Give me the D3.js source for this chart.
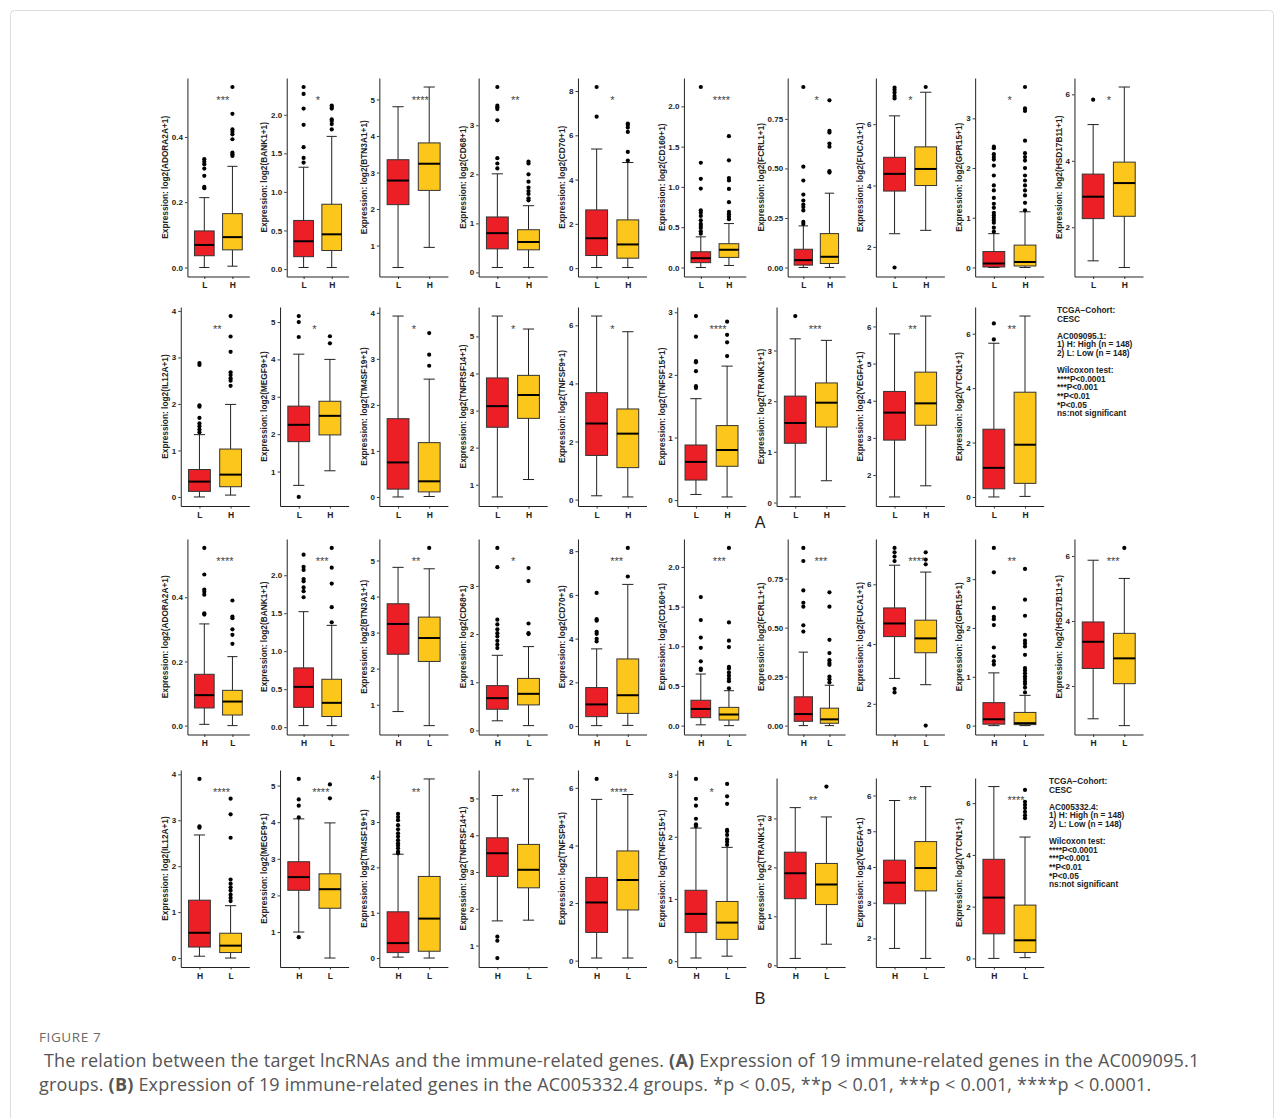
<!DOCTYPE html>
<html>
<head>
<meta charset="utf-8">
<script src="https://cdn.jsdelivr.net/npm/d3@7"></script>
<style>
  body { margin: 0; background: #fff; }
  svg text { font-family: "Liberation Sans", Arial, sans-serif; }
</style>
</head>
<body>
<svg id="fig" width="1281" height="1118"></svg>
<script>
// genes shown in each half of the figure
const genes = ["ADORA2A","BANK1","BTN3A1","CD68","CD70","CD160","FCRL1","FUCA1","GPR15","HSD17B11",
               "IL12A","MEGF9","TM4SF19","TNFRSF14","TNFSF9","TNFSF15","TRANK1","VEGFA","VTCN1"];

const tickLabels = [
  ["0.0","0.2","0.4"], ["0.0","0.5","1.0","1.5","2.0"], ["1","2","3","4","5"], ["0","1","2","3"],
  ["0","2","4","6","8"], ["0.0","0.5","1.0","1.5","2.0"], ["0.00","0.25","0.50","0.75"], ["2","4","6"],
  ["0","1","2","3"], ["2","4","6"], ["0","1","2","3","4"], ["1","2","3","4","5"], ["0","1","2","3","4"],
  ["1","2","3","4","5"], ["0","2","4","6"], ["0","1","2","3"], ["0","1","2","3"], ["2","3","4","5","6"],
  ["0","2","4","6"]
];

// (A) AC009095.1 : L (red) then H (yellow)
const starsA = ["***","*","****","**","*","****","*","*","*","*","**","*","*","*","*","****","***","**","**"];
// box stats: [whisker low, q1, median, q3, whisker high]
const boxA_L = [
  [0,0.036,0.069,0.112,0.214], [0.02,0.16,0.36,0.63,1.32], [0.4,2.12,2.78,3.35,4.8], [0.1,0.48,0.8,1.13,2.01],
  [0.03,0.57,1.35,2.63,5.38], [0,0.06,0.115,0.195,0.38], [0,0.012,0.037,0.092,0.21], [2.43,3.82,4.38,4.92,6.27],
  [0,0.01,0.08,0.32,0.68], [0.99,2.26,2.92,3.6,5.09], [0,0.12,0.33,0.59,1.34], [0.63,1.8,2.25,2.75,4.14],
  [0,0.17,0.75,1.7,3.93], [0.67,2.55,3.12,3.88,5.55], [0.13,1.52,2.62,3.68,6.32], [0.09,0.32,0.61,0.88,1.62],
  [0.11,1.17,1.57,2.1,3.23], [1.41,2.94,3.68,4.25,5.8], [0,0.3,1.07,2.49,5.65]
];
const outA_L = [
  [0.243,0.247,0.281,0.303,0.316,0.324,0.332], [1.38,1.44,1.58,1.87,2.08,2.27,2.36], [],
  [2.12,2.22,2.33,3.1,3.33,3.37,3.4,3.78], [6.84,8.18],
  [0.42,0.45,0.49,0.515,0.54,0.585,0.64,0.68,0.71,0.98,1.1,1.3,2.24],
  [0.22,0.23,0.288,0.305,0.318,0.338,0.368,0.439,0.509,0.911], [1.33,6.84,6.92,7.03,7.11,7.19],
  [0.72,0.8,0.9,0.95,1.0,1.05,1.1,1.2,1.28,1.4,1.55,1.65,1.85,2.05,2.17,2.22,2.28,2.4,2.43], [5.84],
  [1.39,1.45,1.52,1.58,1.7,1.94,1.97,2.84,2.88], [0.32,4.6,5.0,5.16], [], [], [],
  [1.79,1.82,2.06,2.2,2.22,2.61,2.94], [3.68], [], [5.79,6.38]
];
const boxA_H = [
  [0.004,0.054,0.093,0.165,0.31], [0.02,0.24,0.45,0.84,1.72], [0.95,2.51,3.24,3.81,5.34], [0.1,0.46,0.62,0.87,1.36],
  [0.03,0.45,1.07,2.18,4.77], [0.025,0.125,0.22,0.295,0.545], [0,0.02,0.054,0.171,0.375], [2.54,4.0,4.54,5.26,7.04],
  [0,0.03,0.11,0.45,1.12], [0.79,2.33,3.33,3.96,6.22], [0.04,0.22,0.48,1.03,1.99], [1.02,1.98,2.49,2.88,4.0],
  [0.01,0.11,0.34,1.18,2.56], [1.14,2.79,3.42,3.95,5.2], [0.09,1.1,2.27,3.12,5.78], [0.05,0.54,0.8,1.19,2.14],
  [0.43,1.49,1.97,2.36,3.2], [1.71,3.34,3.93,4.77,6.28], [0.02,0.5,1.92,3.85,6.65]
];
const outA_H = [
  [0.342,0.347,0.352,0.393,0.408,0.416,0.423,0.471,0.553], [1.81,1.88,1.92,1.94,2.08,2.1,2.12], [],
  [1.47,1.51,1.6,1.66,1.73,1.85,2.0,2.22,2.26], [4.86,5.25,6.15,6.35,6.47,6.53],
  [0.6,0.63,0.66,0.69,0.81,0.975,1.08,1.11,1.33,1.63], [0.479,0.486,0.61,0.626,0.681,0.69,0.844], [7.21],
  [1.15,1.3,1.45,1.55,1.65,1.75,1.85,2.0,2.15,2.22,2.3,2.55,3.15,3.2,3.63], [],
  [2.39,2.5,2.55,2.62,2.68,3.12,3.45,3.89], [4.43,4.62], [2.85,3.09,3.56], [], [],
  [2.3,2.52,2.64,2.85], [], [], []
];

// (B) AC005332.4 : H (red) then L (yellow)
const starsB = ["****","***","**","*","***","***","***","****","**","***","****","****","**","**","****","*","**","**","****"];
const boxB_H = [
  [0.004,0.055,0.095,0.16,0.317], [0.02,0.26,0.53,0.78,1.52], [0.81,2.4,3.24,3.8,4.81], [0.2,0.44,0.67,0.93,1.56],
  [0.02,0.43,0.99,1.76,3.53], [0.01,0.1,0.21,0.32,0.65], [0,0.022,0.059,0.147,0.375], [2.85,4.25,4.69,5.21,6.64],
  [0,0.03,0.13,0.47,1.08], [0.99,2.54,3.36,3.97,5.87], [0.04,0.24,0.55,1.26,2.68], [1.0,2.14,2.5,2.92,4.09],
  [0.02,0.12,0.33,1.02,2.29], [1.67,2.88,3.51,3.93,5.08], [0.09,0.98,2.02,2.89,5.6], [0.05,0.46,0.76,1.14,2.14],
  [0.14,1.36,1.88,2.31,3.22], [1.72,2.97,3.56,4.19,5.86], [0,0.95,2.35,3.83,6.64]
];
const outB_H = [
  [0.346,0.35,0.408,0.417,0.424,0.471,0.554], [1.71,1.79,1.84,1.92,1.95,2.07,2.11,2.27], [],
  [1.71,1.78,1.86,1.95,2.02,2.1,2.2,2.3,3.39,3.79], [3.87,3.99,4.22,4.31,4.82,4.89,6.09],
  [0.7,0.72,0.81,0.98,1.11,1.33,1.62], [0.48,0.512,0.607,0.627,0.69,0.84,0.907], [2.38,2.5,6.78,6.93,7.07,7.22],
  [1.25,1.32,1.42,1.6,2.06,2.18,2.23,2.41,3.14,3.64], [], [2.84,2.87,3.9], [0.86,4.13,4.45,4.62,5.18],
  [2.31,2.35,2.42,2.48,2.53,2.6,2.68,2.75,2.84,2.93,3.04,3.11,3.18], [0.66,1.13,1.24], [6.31],
  [2.17,2.2,2.29,2.5,2.61,2.93], [], [], []
];
const boxB_L = [
  [0,0.033,0.075,0.11,0.215], [0.02,0.14,0.32,0.63,1.34], [0.42,2.2,2.85,3.43,4.77], [0.1,0.53,0.76,1.08,1.74],
  [0.03,0.58,1.41,3.07,6.48], [0,0.07,0.14,0.23,0.44], [0,0.012,0.032,0.089,0.206], [2.64,3.71,4.19,4.8,6.41],
  [0,0.02,0.05,0.27,0.62], [0.78,2.07,2.85,3.62,5.31], [0,0.12,0.27,0.54,1.14], [0.29,1.65,2.17,2.59,3.98],
  [0,0.15,0.87,1.8,3.95], [1.69,2.57,3.06,3.75,5.53], [0.09,1.76,2.8,3.81,5.77], [0.08,0.35,0.62,0.96,1.83],
  [0.43,1.24,1.65,2.08,3.03], [1.44,3.33,3.97,4.71,6.25], [0.03,0.23,0.7,2.06,4.69]
];
const outB_L = [
  [0.255,0.283,0.3,0.335,0.34,0.39], [1.38,1.58,1.89,2.1,2.36], [5.35], [2.0,2.02,2.22,3.1,3.37], [6.84,8.15],
  [0.47,0.56,0.59,0.63,0.67,0.72,0.74,0.99,1.07,1.3,2.24], [0.22,0.236,0.25,0.31,0.32,0.334,0.37,0.438,0.607,0.68],
  [1.27,6.67,6.83,7.07], [0.68,0.78,0.85,0.9,0.96,1.01,1.07,1.13,1.18,1.45,1.62,1.68,1.74,1.86,2.25,2.58,3.21],
  [6.25], [1.24,1.31,1.38,1.47,1.54,1.62,1.71,2.62,3.13,3.47], [4.65,5.03], [], [], [],
  [1.87,1.92,1.96,2.03,2.09,2.11,2.53,2.65,2.85], [3.65], [], [5.42,5.53,5.66,5.81,5.93,6.05,6.51]
];

const legendA = ["TCGA\u2212Cohort:", "CESC", "", "AC009095.1:", "1) H: High (n = 148)", "2) L: Low (n = 148)", "",
  "Wilcoxon test:", "****P<0.0001", "***P<0.001", "**P<0.01", "*P<0.05", "ns:not significant"];
const legendB = ["TCGA\u2212Cohort:", "CESC", "", "AC005332.4:", "1) H: High (n = 148)", "2) L: Low (n = 148)", "",
  "Wilcoxon test:", "****P<0.0001", "***P<0.001", "**P<0.01", "*P<0.05", "ns:not significant"];

const RED = "#EC1F26", YELLOW = "#FCC61B";
const cellX0 = 158, cellW = 99.3;

const svg = d3.select("#fig");

// card border
svg.append("rect")
    .attr("x", 10.5).attr("y", 10.5)
    .attr("width", 1263).attr("height", 1140)
    .attr("rx", 4)
    .attr("fill", "none")
    .attr("stroke", "#dcdcdc");

function drawPanel(cellX, top, bottom, gene, ticks, groups, stars) {
    const g = svg.append("g");
    const vals = groups.flatMap(d => [d.box[0], d.box[4], ...d.out]);
    const lo = d3.min(vals), hi = d3.max(vals);
    const pad = (hi - lo) * 0.05;
    const y = d3.scaleLinear().domain([lo - pad, hi + pad]).range([bottom, top]);

    // width of the widest tick label decides where the axis sits
    const probe = g.append("text").style("font-size", "8px").style("font-weight", "bold");
    let maxW = 0;
    ticks.forEach(t => { probe.text(t); maxW = Math.max(maxW, probe.node().getComputedTextLength()); });
    probe.remove();

    const axisX = cellX + 18.3 + maxW;
    const endX = cellX + cellW - 8;
    const x = d3.scalePoint().domain(groups.map(d => d.name)).range([axisX, endX]).padding(0.6);
    const step = x.step();
    const bw = step * 0.7, cw = step * 0.36;

    const yAxis = g.append("g")
        .attr("transform", `translate(${axisX},0)`)
        .call(d3.axisLeft(y).tickValues(ticks.map(Number)).tickFormat((d, i) => ticks[i])
            .tickSize(2.5).tickSizeOuter(0).tickPadding(2));
    const xAxis = g.append("g")
        .attr("transform", `translate(0,${bottom})`)
        .call(d3.axisBottom(x).tickSize(2.5).tickSizeOuter(0).tickPadding(3));
    [yAxis, xAxis].forEach(a => {
        a.select(".domain").attr("stroke", "#222").attr("stroke-width", 1);
        a.selectAll(".tick line").attr("stroke", "#222").attr("stroke-width", 0.9);
        a.selectAll(".tick text").attr("fill", "#222").style("font-weight", "bold")
            .style("font-family", "'Liberation Sans', Arial, sans-serif");
    });
    yAxis.selectAll(".tick text").style("font-size", "8px");
    xAxis.selectAll(".tick text").style("font-size", "8.5px");

    // y title
    g.append("text")
        .attr("transform", `translate(${cellX + 7},${(top + bottom) / 2}) rotate(-90)`)
        .attr("text-anchor", "middle")
        .attr("dominant-baseline", "central")
        .style("font-size", "8.3px").style("font-weight", "bold").attr("fill", "#222")
        .text(`Expression: log2(${gene}+1)`);

    groups.forEach(d => {
        const cx = x(d.name);
        const [w0, q1, md, q3, w1] = d.box;
        const bg = g.append("g");
        // whiskers with caps
        bg.append("line").attr("x1", cx).attr("x2", cx).attr("y1", y(q3)).attr("y2", y(w1))
            .attr("stroke", "#222").attr("stroke-width", 1);
        bg.append("line").attr("x1", cx).attr("x2", cx).attr("y1", y(q1)).attr("y2", y(w0))
            .attr("stroke", "#222").attr("stroke-width", 1);
        [w0, w1].forEach(v => {
            bg.append("line").attr("x1", cx - cw / 2).attr("x2", cx + cw / 2).attr("y1", y(v)).attr("y2", y(v))
                .attr("stroke", "#222").attr("stroke-width", 1);
        });
        bg.append("rect")
            .attr("x", cx - bw / 2).attr("width", bw)
            .attr("y", y(q3)).attr("height", y(q1) - y(q3))
            .attr("fill", d.fill).attr("stroke", "#333").attr("stroke-width", 1);
        bg.append("line").attr("x1", cx - bw / 2).attr("x2", cx + bw / 2).attr("y1", y(md)).attr("y2", y(md))
            .attr("stroke", "#000").attr("stroke-width", 2);
        bg.selectAll("circle").data(d.out).join("circle")
            .attr("cx", cx).attr("cy", v => y(v)).attr("r", 2.1).attr("fill", "#000");
    });

    // significance label
    const mid = (x(groups[0].name) + x(groups[1].name)) / 2;
    g.append("text")
        .attr("x", mid - 2)
        .attr("y", y(hi) + 10.8 + 6.2)
        .style("font-size", "11px").attr("fill", "#444")
        .text(stars);
}

function drawHalf(order, boxR, outR, boxY, outY, stars, rows, shifts, legend, legendX, legendY) {
    genes.forEach((gene, i) => {
        const r = i < 10 ? 0 : 1;
        const col = i < 10 ? i : i - 10;
        const cellX = cellX0 + col * cellW;
        const groups = [
            { name: order[0], box: boxR[i], out: outR[i], fill: RED },
            { name: order[1], box: boxY[i], out: outY[i], fill: YELLOW }
        ];
        drawPanel(cellX, rows[r].top + (shifts[i] || 0), rows[r].bottom, gene, tickLabels[i], groups, stars[i]);
    });
    const lg = svg.append("g").attr("transform", `translate(${legendX},${legendY})`);
    lg.selectAll("text").data(legend).join("text")
        .attr("x", 0).attr("y", (d, i) => i * 8.6)
        .attr("dy", "0.35em")
        .style("font-size", "8.3px").style("font-weight", "bold").attr("fill", "#222")
        .text(d => d);
}

drawHalf(["L", "H"], boxA_L, outA_L, boxA_H, outA_H, starsA,
    [{ top: 78, bottom: 276.5 }, { top: 307, bottom: 506 }], {}, legendA, 1057, 310);
drawHalf(["H", "L"], boxB_H, outB_H, boxB_L, outB_L, starsB,
    [{ top: 539, bottom: 734.5 }, { top: 770, bottom: 967 }], { 16: 8, 17: 8, 18: 8 }, legendB, 1049, 781);

// sub-figure letters
svg.append("text").attr("x", 760).attr("y", 528).attr("text-anchor", "middle")
    .style("font-size", "16px").attr("fill", "#222").text("A");
svg.append("text").attr("x", 760).attr("y", 1004).attr("text-anchor", "middle")
    .style("font-size", "16px").attr("fill", "#222").text("B");

// caption
const capFont = "'Open Sans', 'Noto Sans', sans-serif";
svg.append("text").attr("x", 39).attr("y", 1042)
    .style("font-size", "13.5px").style("letter-spacing", "0.6px").attr("fill", "#6a6a6a")
    .style("font-family", capFont)
    .text("FIGURE 7");
const line1 = svg.append("text").attr("x", 39).attr("y", 1067).attr("fill", "#555")
    .style("font-size", "18px").style("letter-spacing", "0.2px").style("font-family", capFont);
line1.append("tspan").text("\u00a0The relation between the target lncRNAs and the immune-related genes. ");
line1.append("tspan").style("font-weight", "bold").text("(A)");
line1.append("tspan").text(" Expression of 19 immune-related genes in the AC009095.1");
const line2 = svg.append("text").attr("x", 39).attr("y", 1091).attr("fill", "#555")
    .style("font-size", "18px").style("letter-spacing", "0.2px").style("font-family", capFont);
line2.append("tspan").text("groups. ");
line2.append("tspan").style("font-weight", "bold").text("(B)");
line2.append("tspan").text(" Expression of 19 immune-related genes in the AC005332.4 groups. *p < 0.05, **p < 0.01, ***p < 0.001, ****p < 0.0001.");
</script>
</body>
</html>
